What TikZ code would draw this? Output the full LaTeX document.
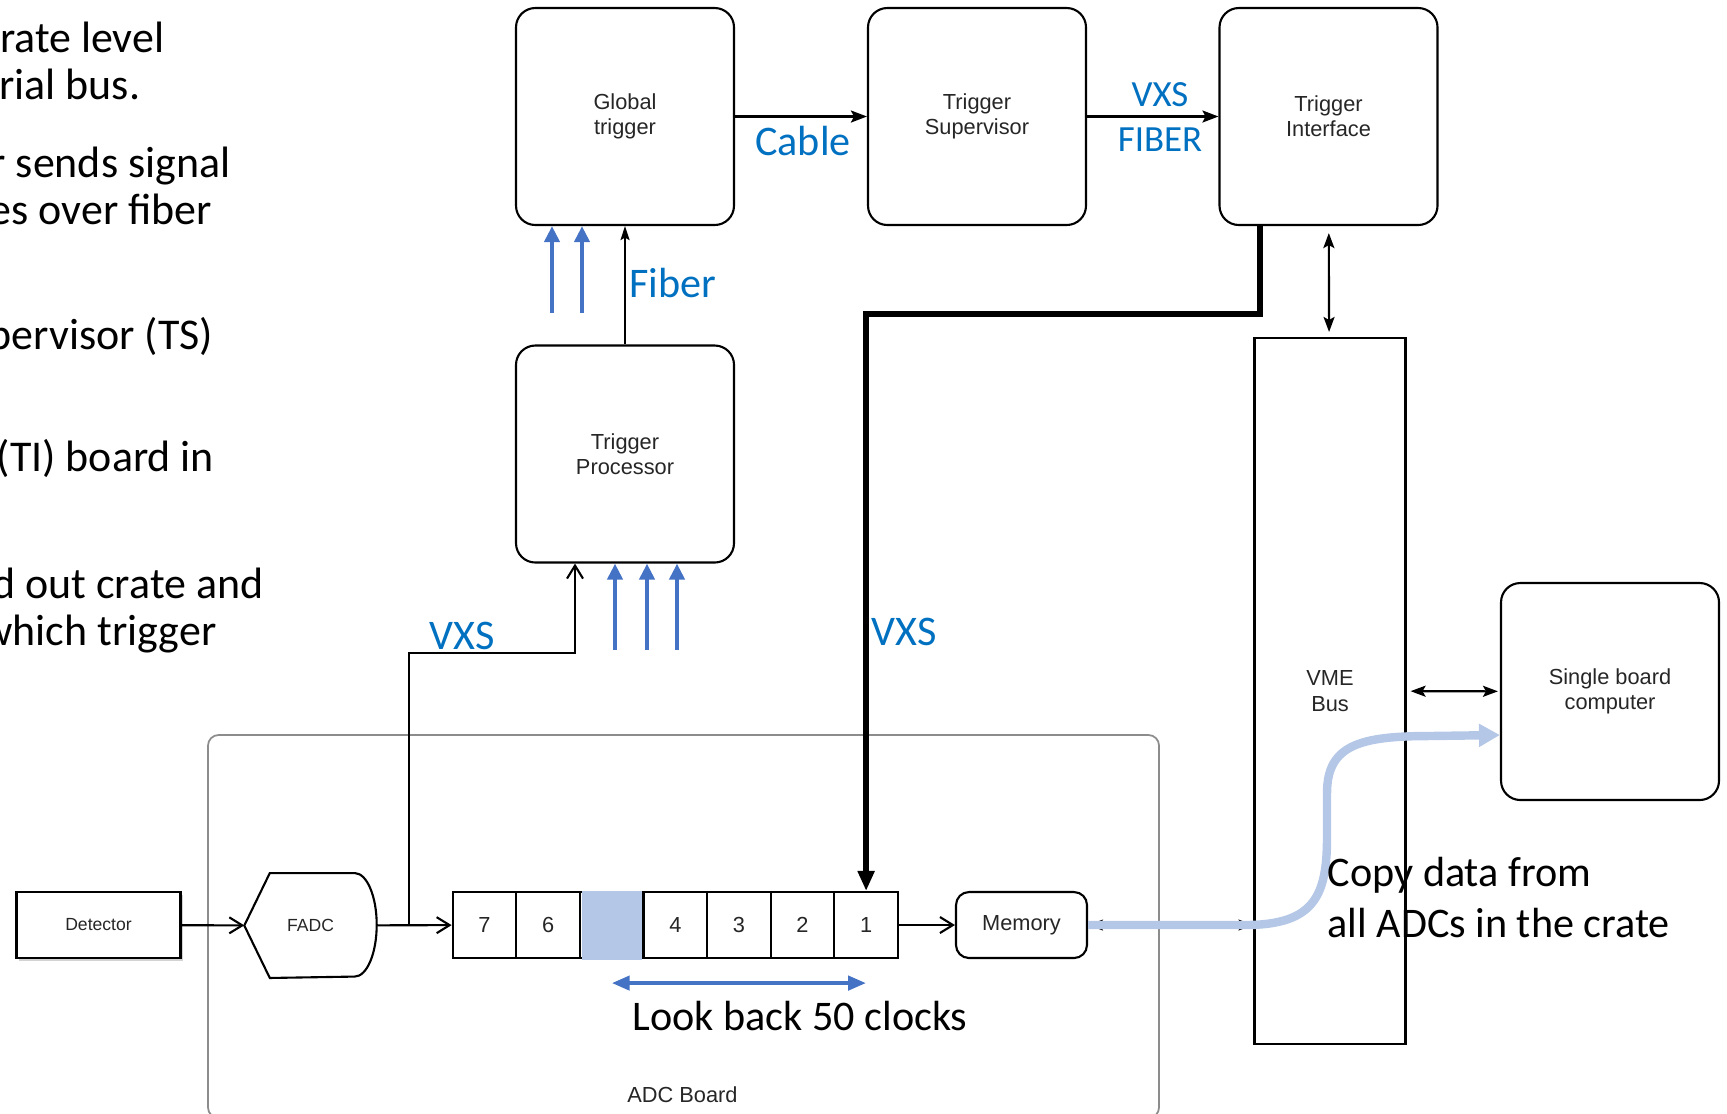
\documentclass[tikz,border=0pt]{standalone}
\usepackage{fontspec}
\setmainfont{Carlito}
\newfontfamily\diagfont{Liberation Sans}
\usetikzlibrary{arrows.meta,positioning,calc,shadows}
\definecolor{labblue}{HTML}{0070C0}
\definecolor{arrblue}{HTML}{4472C4}
\definecolor{paleblue}{HTML}{B4C7E7}

\begin{document}
\begin{tikzpicture}[
  blk/.style={draw, rounded corners=5.5pt, line width=0.6pt, minimum width=2.18cm, minimum height=2.17cm,
    align=center, font=\diagfont\fontsize{6.2}{7.2}\selectfont, text=black!85},
  sq/.style={draw, line width=0.6pt, align=center, font=\diagfont\fontsize{6.2}{7.2}\selectfont, text=black!85, inner sep=0pt},
  cell/.style={sq, minimum width=0.636cm, minimum height=0.66cm},
  lab/.style={text=labblue, font=\fontsize{12}{14}\selectfont, inner sep=0pt},
  slide/.style={anchor=base east, inner sep=0pt, font=\fontsize{12.5}{15}\selectfont},
  note/.style={inner sep=0pt, font=\fontsize{12}{14.5}\selectfont},
  open/.style={line width=0.6pt, -{Straight Barb[length=1.3mm,width=1.6mm]}},
  solid/.style={line width=0.6pt, -{Stealth[length=1.6mm,width=1.2mm,inset=0.3mm]}},
  both/.style={line width=0.6pt, {Stealth[length=1.5mm,width=1.1mm,inset=0.3mm]}-{Stealth[length=1.5mm,width=1.1mm,inset=0.3mm]}},
  bluearr/.style={arrblue, line width=1.4pt, -{Triangle[length=1.6mm,width=1.5mm]}}
]
  \useasboundingbox (0,0) rectangle (17.27,-11.13);

  % cut-off slide text
  \node[slide] (s1) at (1.65,-0.52)  {rate level};
  \node[slide] (s2) at (1.41,-0.99)  {rial bus.};
  \node[slide] (s3) at (2.31,-1.77)  {r sends signal};
  \node[slide] (s4) at (2.126,-2.246) {es over fiber};
  \node[slide] (s5) at (2.137,-3.49) {pervisor (TS)};
  \node[slide] (s6) at (2.148,-4.71) {(TI) board in};
  \node[slide] (s7) at (2.64,-5.984) {d out crate and};
  \node[slide] (s8) at (2.17,-6.45)  {which trigger};

  % trigger chain
  \node[blk] (gt)  at (6.25,-1.165)  {Global\\trigger};
  \node[blk] (ts)  at (9.77,-1.165)  {Trigger\\Supervisor};
  \node[blk] (ti)  at (13.285,-1.165) {Trigger\\Interface};
  \node[blk] (tp)  at (6.25,-4.54)   {Trigger\\Processor};
  \node[sq, minimum width=1.51cm, minimum height=7.06cm] (vme) at (13.3,-6.91) {VME\\Bus};
  \node[blk] (sbc) at (16.1,-6.915)  {Single board\\computer};

  % ADC board
  \node[draw=black!45, line width=0.5pt, rounded corners=3pt, minimum width=9.51cm, minimum height=3.83cm] (adc) at (6.835,-9.265) {};
  \node[font=\diagfont\fontsize{6.2}{7.2}\selectfont, text=black!85] (adcl) at (6.825,-10.95) {ADC Board};

  \node[sq, minimum width=1.64cm, minimum height=0.66cm, fill=white, font=\diagfont\fontsize{5}{6}\selectfont,
    drop shadow={shadow xshift=0.7pt, shadow yshift=-0.9pt, opacity=0.35}] (det) at (0.985,-9.25) {Detector};
  \node[font=\diagfont\fontsize{5}{6}\selectfont, text=black!85, minimum width=1.31cm, minimum height=1.035cm, inner sep=0pt] (fadc) at (3.105,-9.255) {FADC};
  \draw[line width=0.6pt] (fadc.west) -- ([xshift=0.255cm]fadc.north west) -- ([xshift=-0.22cm]fadc.north east)
    arc[start angle=90, end angle=-90, x radius=0.22cm, y radius=0.5175cm] -- ([xshift=0.255cm]fadc.south west) -- cycle;

  \foreach \lab [count=\i] in {7,6,{},4,3,2,1}
    \node[cell] (c\i) at (4.527+\i*0.636-0.318,-9.25) {\lab};
  \node[fill=paleblue, minimum width=0.6cm, minimum height=0.69cm, inner sep=0pt] (hit) at (c3) {};
  \node[blk, minimum width=1.31cm, minimum height=0.66cm, rounded corners=3.7pt] (mem) at (10.215,-9.25) {Memory};

  % connections
  \draw[open] (det) -- (fadc);
  \draw[open] (fadc) -- (c1);
  \draw[open] (c7) -- (mem);
  \coordinate (tap) at (4.09,-9.25);
  \draw[open] (tap) -- ++(0,2.72) -| ([xshift=-0.5cm]tp.south);
  \foreach \dx in {-0.1,0.22,0.52}
    \draw[bluearr] ([xshift=\dx cm, yshift=-0.86cm]tp.south) -- ([xshift=\dx cm]tp.south);
  \foreach \dx in {-0.73,-0.43}
    \draw[bluearr] ([xshift=\dx cm, yshift=-0.87cm]gt.south) -- ([xshift=\dx cm]gt.south);
  \draw[line width=0.6pt, -{Stealth[length=1.4mm,width=0.9mm,inset=0.25mm]}] (tp) -- (gt);
  \draw[solid] (gt) -- (ts);
  \draw[solid] (ts) -- (ti);
  \draw[line width=1.5pt, -{Triangle[length=2mm,width=1.6mm]}] ([xshift=-0.685cm]ti.south) -- ++(0,-0.88) -| (c7.north);
  \draw[both, shorten <=0.07cm, shorten >=0.05cm] (ti) -- (vme);
  \draw[both, shorten <=0.04cm, shorten >=0.02cm] (vme) -- (sbc);
  \draw[both, line width=0.4pt] (mem.east) -- (mem.east -| vme.west);
  \draw[paleblue, line width=2.4pt, -{Triangle[length=2.1mm,width=2.2mm]}] (mem.east) -- (12.45,-9.25)
    .. controls (13.15,-9.25) and (13.27,-8.95) .. (13.27,-8.37) -- (13.27,-7.93)
    .. controls (13.27,-7.45) and (13.6,-7.36) .. (14.3,-7.36) -- ([yshift=-0.435cm]sbc.west);
  \draw[arrblue, line width=1.2pt, {Triangle[length=1.8mm,width=1.4mm]}-{Triangle[length=1.8mm,width=1.4mm]}]
    ([yshift=-0.24cm]c3.south) -- ([yshift=-0.24cm]c7.south);

  % labels
  \node[lab] (cable) at (8.03,-1.41) {Cable};
  \node[lab, font=\fontsize{10.5}{12}\selectfont] (vxs1) at (11.6,-0.95) {VXS};
  \node[lab, font=\fontsize{10.5}{12}\selectfont] (fib1) at (11.6,-1.40) {FIBER};
  \node[lab] (fib2) at (6.73,-2.83) {Fiber};
  \node[lab] (vxs2) at (4.62,-6.36) {VXS};
  \node[lab] (vxs3) at (9.04,-6.32) {VXS};
  \node[note] (look) at (8.0,-10.16) {Look back 50 clocks};
  \node[note, anchor=west, align=left] (copy) at (13.27,-8.975) {Copy data from\\all ADCs in the crate};
\end{tikzpicture}
\end{document}
